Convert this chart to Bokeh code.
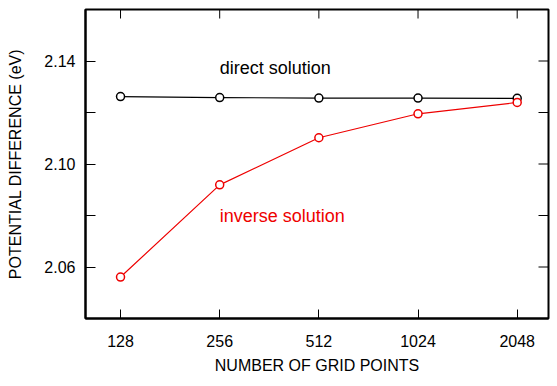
import math
from bokeh.plotting import figure
from bokeh.models import Range1d, FixedTicker, PrintfTickFormatter
from bokeh.core.properties import value
from bokeh.embed import file_html
from bokeh.resources import INLINE

grid_points = [128, 256, 512, 1024, 2048]
direct_solution = [2.1262, 2.1258, 2.1256, 2.1256, 2.1255]
inverse_solution = [2.0561, 2.0919, 2.1102, 2.1195, 2.1239]
y_major_ticks = [2.06, 2.10, 2.14]
y_minor_ticks = [2.08, 2.12]
label_texts = ["direct solution", "inverse solution"]
label_x = [256, 256]
label_y = [2.1372, 2.0800]
x_start, x_end = 100.2, 2549
y_start, y_end = 2.04, 2.16

FONT = "Liberation Sans"
RED = "#ee0000"

p = figure(width=557, height=386, x_axis_type="log",
           x_range=Range1d(x_start, x_end), y_range=Range1d(y_start, y_end),
           output_backend="svg", toolbar_location=None,
           min_border_left=85, min_border_right=9, min_border_top=9, min_border_bottom=68)
p.grid.visible = False
p.outline_line_color = "black"
p.outline_line_width = 2
p.background_fill_color = "white"
p.border_fill_color = "white"

xt = FixedTicker(ticks=grid_points)
yt = FixedTicker(ticks=y_major_ticks, minor_ticks=y_minor_ticks)

xa = p.xaxis[0]
xa.ticker = xt
xa.formatter = PrintfTickFormatter(format="%d")
xa.major_tick_in = 9
xa.major_tick_out = 0
xa.minor_tick_in = 0
xa.minor_tick_out = 0
xa.major_label_standoff = 16
xa.major_label_text_font = FONT
xa.major_label_text_font_size = "16px"
xa.major_label_text_color = "black"
xa.axis_label = "NUMBER OF GRID POINTS"
xa.axis_label_text_font = FONT
xa.axis_label_text_font_size = "16px"
xa.axis_label_text_font_style = "normal"
xa.axis_label_text_color = "black"
xa.axis_label_standoff = 7
xa.axis_line_width = 2

ya = p.yaxis[0]
ya.ticker = yt
ya.formatter = PrintfTickFormatter(format="%.2f")
ya.major_tick_in = 10
ya.major_tick_out = 0
ya.minor_tick_in = 10
ya.minor_tick_out = 0
ya.major_label_standoff = 10
ya.major_label_text_font = FONT
ya.major_label_text_font_size = "16px"
ya.major_label_text_color = "black"
ya.axis_label = "POTENTIAL DIFFERENCE (eV)"
ya.axis_label_text_font = FONT
ya.axis_label_text_font_size = "16px"
ya.axis_label_text_font_style = "normal"
ya.axis_label_text_color = "black"
ya.axis_label_standoff = 17
ya.axis_line_width = 2

# inside ticks on the right and top edges, clipped to the frame
right_ticks = y_major_ticks + y_minor_ticks
p.scatter(x=[x_end] * len(right_ticks), y=right_ticks, marker="dash", size=20,
          line_color="black", line_width=1)
p.scatter(x=grid_points, y=[y_end] * len(grid_points), marker="dash", size=18,
          angle=math.pi / 2, line_color="black", line_width=1)

p.line(grid_points, direct_solution, line_color="black", line_width=1.2)
p.scatter(grid_points, direct_solution, marker="circle", size=8, fill_color="white",
          line_color="black", line_width=1.5)
p.line(grid_points, inverse_solution, line_color=RED, line_width=1.2)
p.scatter(grid_points, inverse_solution, marker="circle", size=8, fill_color="white",
          line_color=RED, line_width=1.5)

p.text(x=label_x[:1], y=label_y[:1], text=label_texts[:1], text_font=value(FONT),
       text_font_size="18px", text_color="black", text_baseline="middle", text_align="left")
p.text(x=label_x[1:], y=label_y[1:], text=label_texts[1:], text_font=value(FONT),
       text_font_size="18px", text_color=RED, text_baseline="middle", text_align="left")

open("out.html", "w").write(file_html(p, INLINE))
